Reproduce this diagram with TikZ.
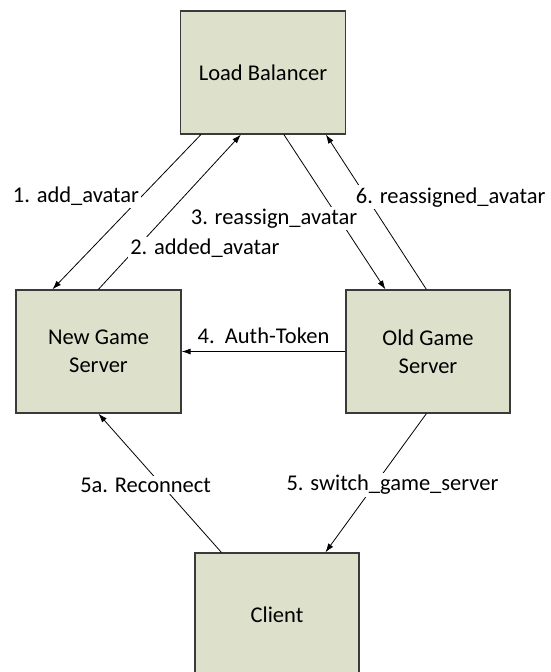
\documentclass[tikz,border=0pt]{standalone}
\usepackage{fontspec}
\setmainfont{Carlito}
\usepackage{tikz}
\usepackage{xcolor}
\usetikzlibrary{arrows.meta}

\definecolor{boxfill}{HTML}{DDE0CB}
\definecolor{boxline}{HTML}{3A3A3A}

\begin{document}
\begin{tikzpicture}[
                x=1pt, y=-1pt,
                server/.style={draw=boxline, fill=boxfill, line width=1.2pt,
                    minimum width=165pt, minimum height=123pt, inner sep=0pt,
                    align=center, font=\fontsize{22.5}{28}\selectfont},
                msg/.style={-{Latex[length=9pt,width=6pt]}, line width=0.8pt},
                lbl/.style={fill=white, inner sep=2pt,
                    font=\fontsize{22.5}{28}\selectfont}]
            \useasboundingbox (0,0) rectangle (550,672);
            % the four machines
            \node[server] (lb) at (263,72.5) {Load Balancer};
            \node[server] (ngs) at (98.5,351.5) {New Game\\Server};
            \node[server, minimum width=164pt] (ogs) at (428,351.5) {Old Game\\Server};
            \node[server, minimum width=164pt] (client) at (277,614.5) {Client};
            % messages
            \draw[msg] ([xshift=21pt]lb.south west) -- ([xshift=37pt]ngs.north west)
                node[lbl, pos=0.40, anchor=east] (m1) {1. add\_avatar};
            \draw[msg] ([xshift=83pt]ngs.north west) -- ([xshift=61pt]lb.south west)
                node[lbl, pos=0.263, anchor=west, xshift=-8pt] (m2) {2. added\_avatar};
            \draw[msg] ([xshift=104pt]lb.south west) -- ([xshift=40pt]ogs.north west)
                node[lbl, pos=0.54, anchor=east, xshift=21pt] (m3) {3. reassign\_avatar};
            \draw[msg] (ogs.west) -- (ngs.east)
                node[lbl, midway, anchor=south, yshift=5pt] (m4) {4.\ \ Auth-Token};
            \draw[msg] ([xshift=81pt]ogs.south west) -- ([xshift=131pt]client.north west)
                node[lbl, pos=0.514, xshift=18pt] (m5) {5. switch\_game\_server};
            \draw[msg] ([xshift=27pt]client.north west) -- ([xshift=83pt]ngs.south west)
                node[lbl, pos=0.486, xshift=-16pt] (m5a) {5a. Reconnect};
            \draw[msg] ([xshift=81pt]ogs.north west) -- ([xshift=146pt]lb.south west)
                node[lbl, pos=0.596, anchor=west, xshift=-13pt] (m6) {6. reassigned\_avatar};
        \end{tikzpicture}
\end{document}
